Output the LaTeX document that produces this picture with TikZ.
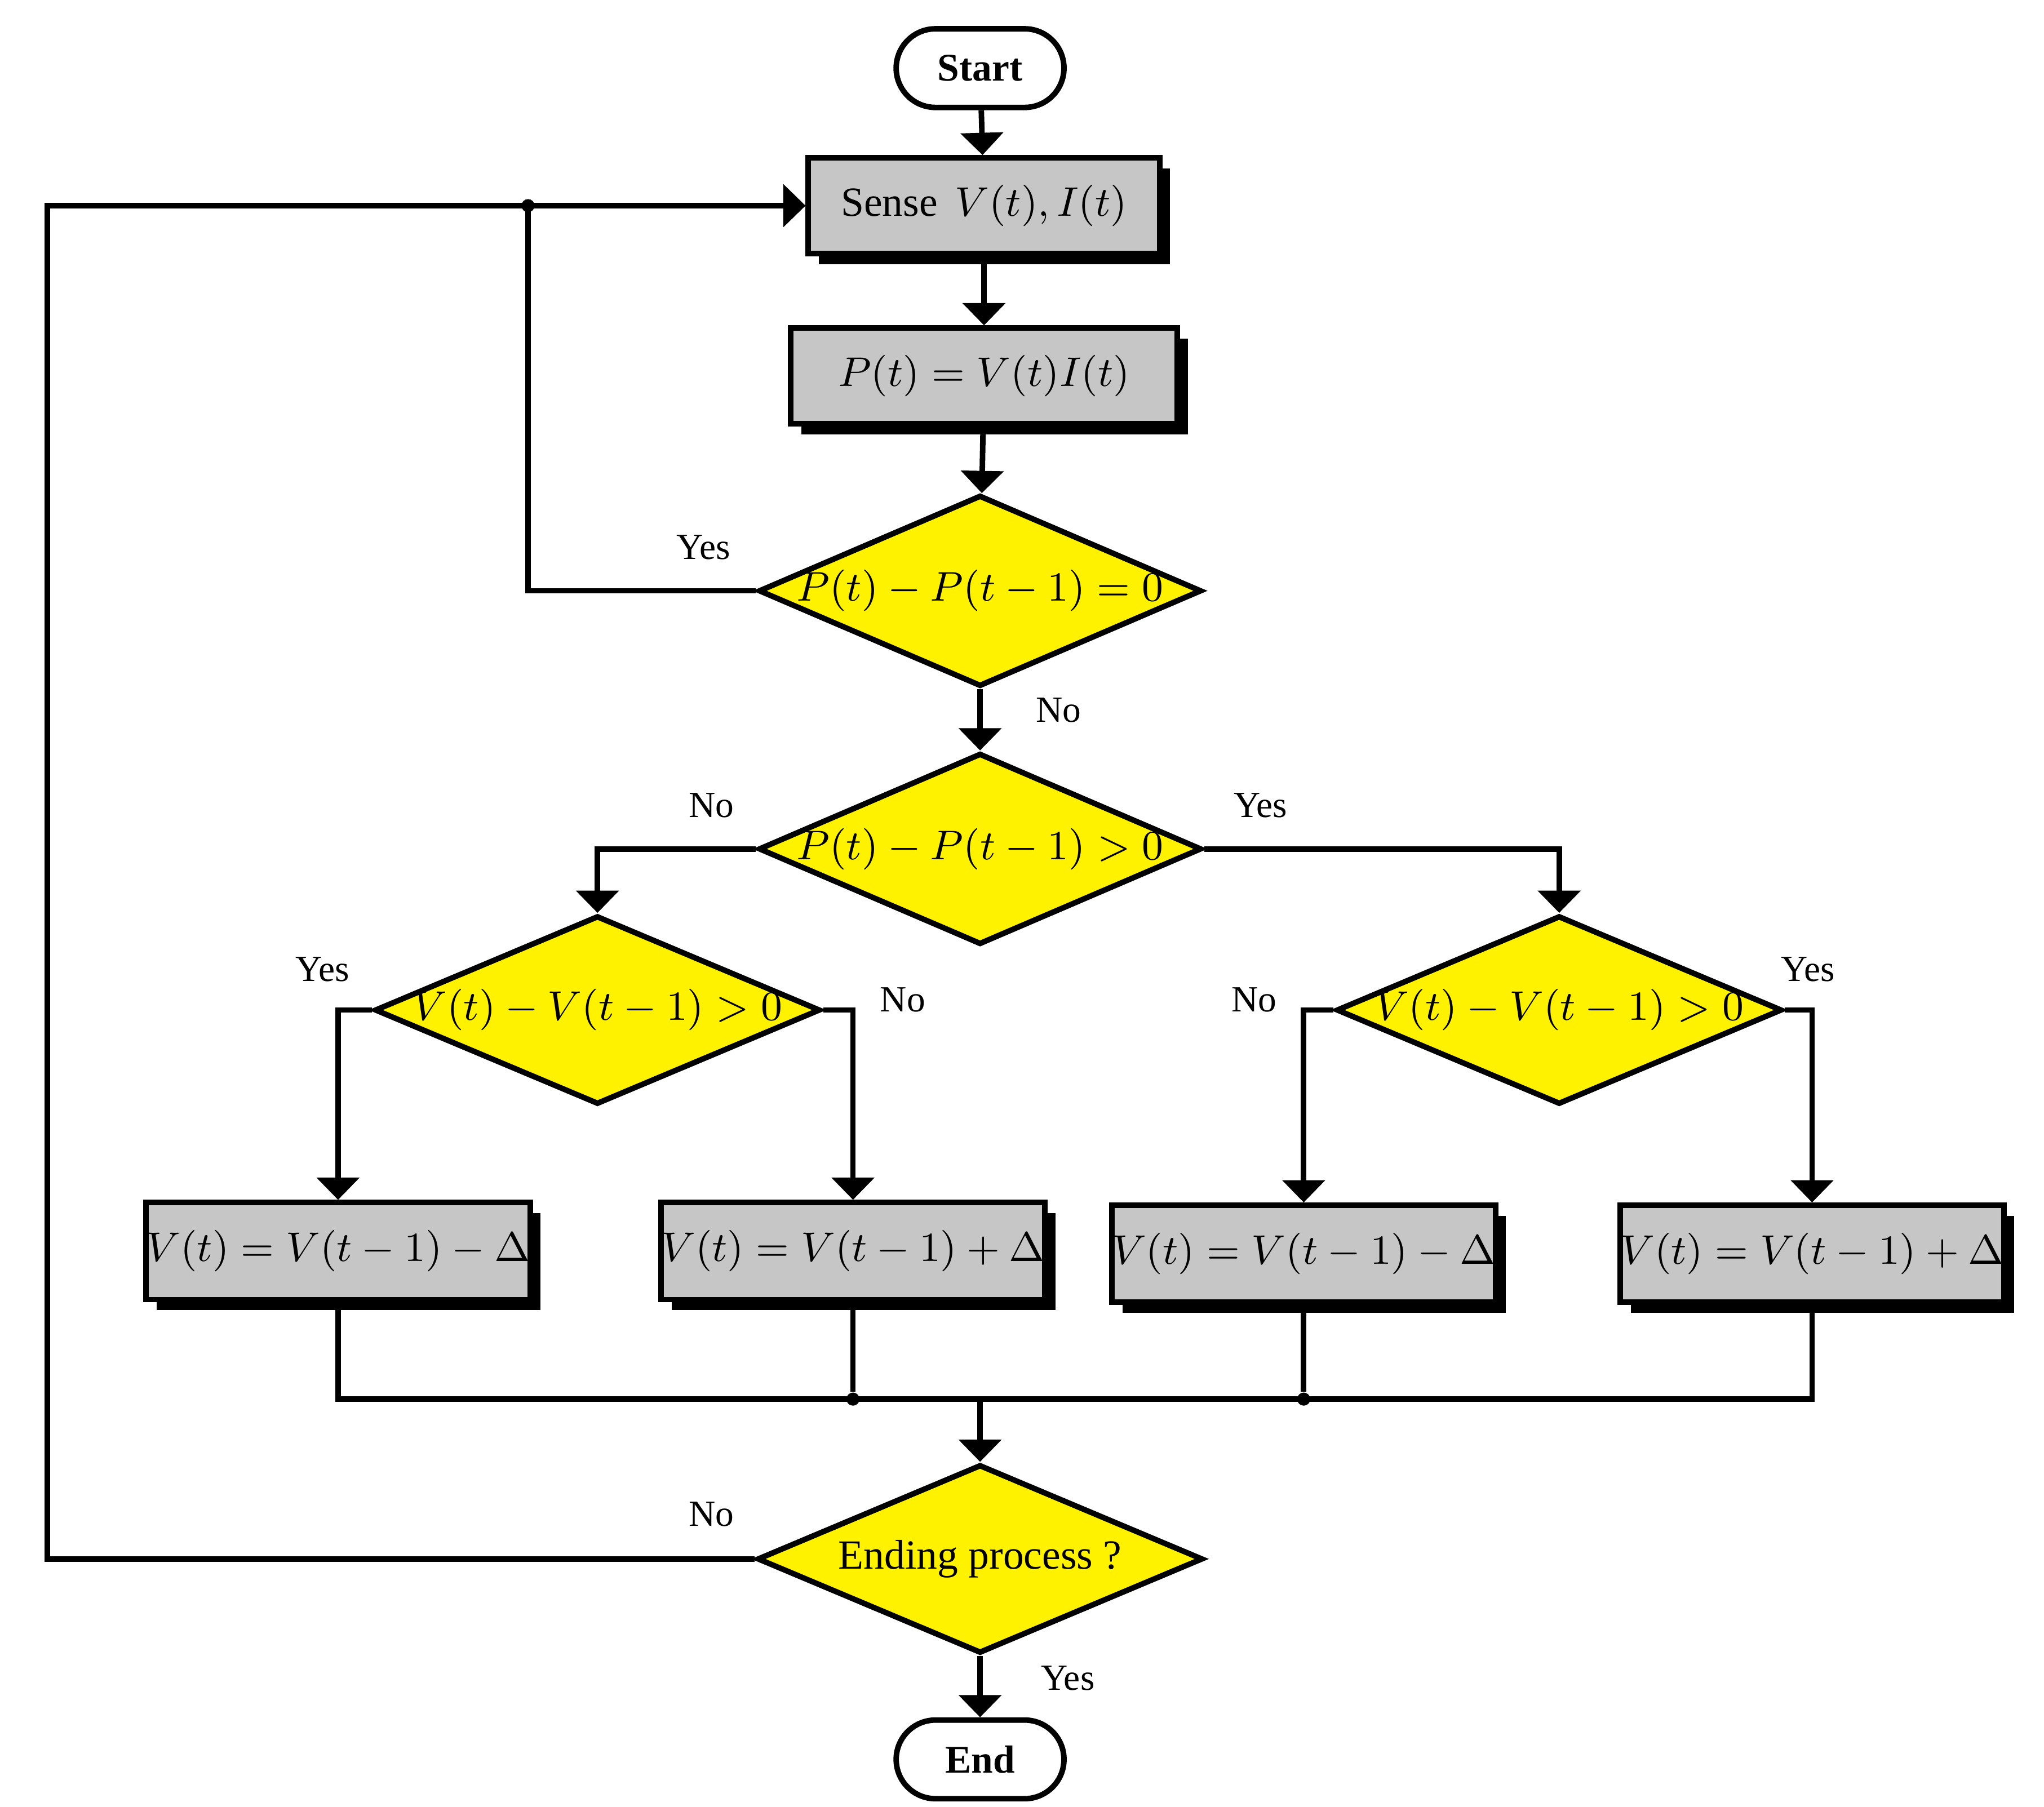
\documentclass[tikz,border=0pt]{standalone}
\usepackage{fontspec}
\setmainfont{Liberation Serif}
\usetikzlibrary{shapes.geometric,arrows.meta,shadows}
\begin{document}
\begin{tikzpicture}[x=0.01cm,y=-0.01cm,
  term/.style={draw,line width=1.2pt,rounded corners=0.3cm,minimum width=1.28cm,minimum height=0.6cm,font=\fontsize{8.5}{10}\selectfont\bfseries},
  box/.style={draw,line width=1.2pt,fill=gray!45,inner sep=0,drop shadow={shadow xshift=0.08cm,shadow yshift=-0.08cm,fill=black,opacity=1},font=\fontsize{9}{11}\selectfont},
  dia/.style={draw,line width=1.2pt,fill=yellow,diamond,inner sep=0,minimum width=3.38cm,minimum height=1.46cm},
  dt/.style={font=\fontsize{9}{11}\selectfont},
  ln/.style={line width=1.2pt},
  ar/.style={line width=1.2pt,-{Triangle[length=0.17cm,width=0.32cm]}},
  lab/.style={font=\fontsize{8}{9}\selectfont},
  dot/.style={circle,fill,inner sep=0,minimum size=0.1cm}]
\useasboundingbox (0,0) rectangle (1560,1379);
\node[term] (start) at (748,52) {Start};
\node[box,minimum width=2.68cm,minimum height=0.73cm] (sense) at (751,157) {Sense\, $V(t),I(t)$};
\node[box,minimum width=2.95cm,minimum height=0.73cm] (pow) at (751,287) {$P(t)=V(t)I(t)$};
\node[dia] (d1) at (748,451) {};
\node[dt] at (d1) {$P(t)-P(t-1)=0$};
\node[dia] (d2) at (748,648) {};
\node[dt] at (d2) {$P(t)-P(t-1)>0$};
\node[dia,minimum width=3.4cm,minimum height=1.44cm] (dl) at (456,771) {};
\node[dt] at (dl) {$V(t)-V(t-1)>0$};
\node[dia,minimum width=3.4cm,minimum height=1.44cm] (dr) at (1190,771) {};
\node[dt] at (dr) {$V(t)-V(t-1)>0$};
\node[box,minimum width=2.93cm,minimum height=0.74cm] (b1) at (258,955) {$V(t)=V(t-1)-\Delta$};
\node[box,minimum width=2.90cm,minimum height=0.74cm] (b2) at (651,955) {$V(t)=V(t-1)+\Delta$};
\node[box,minimum width=2.88cm,minimum height=0.74cm] (b3) at (995,957) {$V(t)=V(t-1)-\Delta$};
\node[box,minimum width=2.90cm,minimum height=0.74cm] (b4) at (1383,957) {$V(t)=V(t-1)+\Delta$};
\node[dia,minimum width=3.4cm,minimum height=1.44cm] (de) at (748,1190) {};
\node[dt] at (de) {Ending process ?};
\node[term] (end) at (748,1343) {End};
\coordinate (m) at (748,1068);
\node[dot] (j0) at (403,157) {};
\node[dot] (j1) at (651,1068) {};
\node[dot] (j2) at (995,1068) {};
\draw[ar] (start) -- (sense);
\draw[ar] (sense) -- (pow);
\draw[ar] (pow) -- (d1);
\draw[ar] (d1) -- (d2);
\draw[ln] (d1.west) -| (j0.center);
\draw[ar] (j0.center) -- (sense.west);
\draw[ar] (d2.west) -| (dl.north);
\draw[ar] (d2.east) -| (dr.north);
\draw[ar] (dl.west) -| (b1.north);
\draw[ar] (dl.east) -| (b2.north);
\draw[ar] (dr.west) -| (b3.north);
\draw[ar] (dr.east) -| (b4.north);
\draw[ln] (b1.south) |- (m) -| (b4.south);
\draw[ln] (b2.south) -- (j1);
\draw[ln] (b3.south) -- (j2);
\draw[ar] (m) -- (de);
\draw[ar] (de) -- (end);
\draw[ln] (de.west) -- (36,1190) -- (36,157) -- (j0.center);
\node[lab] at (537,418) {Yes};
\node[lab] at (808,542) {No};
\node[lab] at (543,615) {No};
\node[lab] at (962,615) {Yes};
\node[lab] at (246,740) {Yes};
\node[lab] at (689,763) {No};
\node[lab] at (957,763) {No};
\node[lab] at (1380,740) {Yes};
\node[lab] at (543,1156) {No};
\node[lab] at (815,1281) {Yes};
\end{tikzpicture}
\end{document}
